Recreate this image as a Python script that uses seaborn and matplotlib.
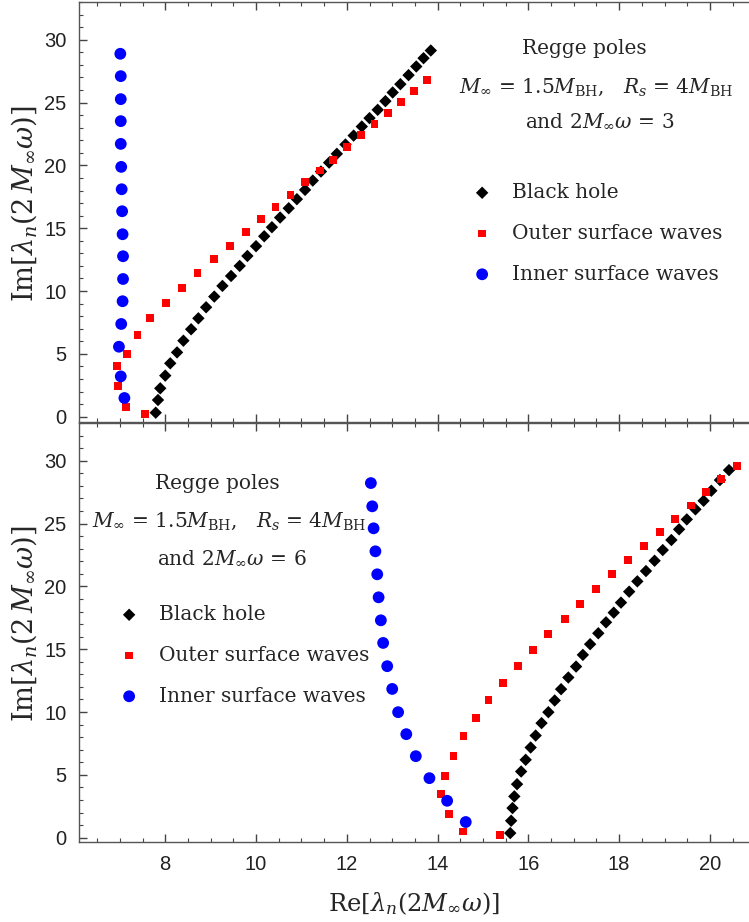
#!/usr/bin/env python3
# -*- coding: utf-8 -*-
import matplotlib
matplotlib.use("Agg")
import matplotlib.pyplot as plt
import pandas as pd
import seaborn as sns
from matplotlib import font_manager
from matplotlib.ticker import MultipleLocator

sns.set_theme(style="ticks", context='notebook')

W, H = 749, 922

# ---- panel 1 : 2 M_inf omega = 3 ----
bh1_re = [7.79, 7.84, 7.89, 8.00, 8.11, 8.26, 8.40, 8.57, 8.73, 8.90, 9.08, 9.26,
          9.45, 9.64, 9.81, 10.00, 10.18, 10.35, 10.53, 10.72, 10.90, 11.08, 11.25,
          11.43, 11.61, 11.78, 11.97, 12.15, 12.33, 12.50, 12.68, 12.85, 13.01,
          13.18, 13.36, 13.53, 13.69, 13.85]
bh1_im = [0.32, 1.33, 2.26, 3.27, 4.25, 5.12, 6.05, 6.96, 7.83, 8.71, 9.56, 10.41,
          11.20, 12.00, 12.79, 13.57, 14.36, 15.08, 15.85, 16.59, 17.31, 18.05, 18.79,
          19.51, 20.22, 20.92, 21.66, 22.37, 23.09, 23.76, 24.42, 25.11, 25.80,
          26.46, 27.18, 27.87, 28.53, 29.14]
out1_re = [7.55, 7.14, 6.95, 6.94, 7.16, 7.39, 7.66, 8.01, 8.37, 8.71, 9.07, 9.42,
           9.77, 10.10, 10.43, 10.76, 11.08, 11.40, 11.70, 12.00, 12.31, 12.61,
           12.91, 13.19, 13.48, 13.76]
out1_im = [0.19, 0.74, 2.42, 4.06, 4.97, 6.48, 7.83, 9.03, 10.22, 11.41, 12.53, 13.57,
           14.68, 15.71, 16.67, 17.62, 18.66, 19.59, 20.46, 21.45, 22.43, 23.28,
           24.15, 25.03, 25.91, 26.76]
inn1_re = [7.10, 7.02, 6.98, 7.03, 7.06, 7.07, 7.07, 7.06, 7.05, 7.04, 7.03, 7.02,
           7.02, 7.02, 7.02, 7.01]
inn1_im = [1.49, 3.21, 5.57, 7.38, 9.19, 10.96, 12.77, 14.52, 16.35, 18.10, 19.88,
           21.71, 23.52, 25.27, 27.10, 28.88]

# ---- panel 2 : 2 M_inf omega = 6 ----
bh2_re = [15.60, 15.62, 15.65, 15.69, 15.75, 15.84, 15.94, 16.05, 16.16, 16.29,
          16.44, 16.58, 16.72, 16.88, 17.05, 17.20, 17.36, 17.54, 17.71, 17.88,
          18.04, 18.22, 18.40, 18.59, 18.78, 18.96, 19.15, 19.32, 19.49, 19.68,
          19.86, 20.03, 20.22, 20.42]
bh2_im = [0.37, 1.35, 2.36, 3.29, 4.26, 5.27, 6.20, 7.18, 8.13, 9.12, 9.99, 10.92,
          11.82, 12.75, 13.62, 14.55, 15.40, 16.27, 17.14, 17.91, 18.71, 19.58,
          20.40, 21.22, 22.04, 22.89, 23.69, 24.54, 25.33, 26.13, 26.81, 27.61,
          28.46, 29.25]
out2_re = [15.38, 14.56, 14.26, 14.07, 14.17, 14.35, 14.57, 14.84, 15.12, 15.44,
           15.77, 16.11, 16.44, 16.80, 17.14, 17.49, 17.85, 18.20, 18.54, 18.89,
           19.23, 19.58, 19.92, 20.25, 20.59]
out2_im = [0.24, 0.50, 1.88, 3.47, 4.90, 6.49, 8.11, 9.51, 10.94, 12.30, 13.67,
           14.94, 16.19, 17.41, 18.60, 19.77, 20.99, 22.10, 23.19, 24.30, 25.33,
           26.44, 27.48, 28.55, 29.57]
inn2_re = [14.62, 14.21, 13.82, 13.52, 13.31, 13.13, 13.00, 12.89, 12.80, 12.75,
           12.70, 12.67, 12.63, 12.59, 12.56, 12.53]
inn2_im = [1.25, 2.94, 4.74, 6.49, 8.24, 9.99, 11.84, 13.65, 15.50, 17.30, 19.13,
           20.96, 22.79, 24.62, 26.37, 28.22]

LABELS = ['Black hole', 'Outer surface waves', 'Inner surface waves']
SERIF = 'DejaVu Serif'


def pick_font(names, default):
    have = {f.name for f in font_manager.fontManager.ttflist}
    for n in names:
        if n in have:
            return n
    return default


TICK_FONT = pick_font(['Liberation Sans Narrow'], 'Liberation Sans')
plt.rcParams['mathtext.fontset'] = 'dejavuserif'


def make_df(bh, out, inn):
    parts = []
    for lab, (re, im) in zip(LABELS, [bh, out, inn]):
        parts.append(pd.DataFrame({'re': re, 'im': im, 'kind': lab}))
    return pd.concat(parts, ignore_index=True)


def fpx(x, y):
    return x / W, 1 - y / H


def plot_panel(ax, df):
    styles = {
        'Black hole': dict(marker='D', color='black', s=40),
        'Outer surface waves': dict(marker='s', color='#ff0000', s=32),
        'Inner surface waves': dict(marker='o', color='#0000ff', s=72),
    }
    for lab in LABELS:
        st = styles[lab]
        sns.scatterplot(data=df[df['kind'] == lab], x='re', y='im', ax=ax,
                        marker=st['marker'], color=st['color'], s=st['s'],
                        edgecolor='none', linewidth=0, label=lab, zorder=3)
    ax.set_xlim(6.1, 20.86)
    ax.xaxis.set_major_locator(MultipleLocator(2))
    ax.xaxis.set_minor_locator(MultipleLocator(0.5))
    ax.yaxis.set_major_locator(MultipleLocator(5))
    ax.yaxis.set_minor_locator(MultipleLocator(1))
    ax.tick_params(which='both', direction='in', top=True, right=False,
                   color='#444444', labelsize=14.5, pad=9, labelcolor='#222222')
    ax.tick_params(which='major', length=6, width=1)
    ax.tick_params(which='minor', length=3, width=0.8)
    for lbl in ax.get_xticklabels() + ax.get_yticklabels():
        lbl.set_family(TICK_FONT)
    for sp in ['left', 'bottom', 'top']:
        ax.spines[sp].set_color('#555555')
        ax.spines[sp].set_linewidth(1.0)
    ax.spines['right'].set_visible(False)
    ax.set_ylabel(r'$\mathrm{Im}[\lambda_n(2\,M_\infty\omega)]$', fontsize=19.5,
                  family=SERIF)


fig = plt.figure(figsize=(W / 100, H / 100), dpi=100)
ax1 = fig.add_axes([79 / W, 1 - 422 / H, 1 - 79 / W, 420 / H])
ax2 = fig.add_axes([79 / W, 1 - 842 / H, 1 - 79 / W, 419 / H])

plot_panel(ax1, make_df((bh1_re, bh1_im), (out1_re, out1_im), (inn1_re, inn1_im)))
plot_panel(ax2, make_df((bh2_re, bh2_im), (out2_re, out2_im), (inn2_re, inn2_im)))
ax1.set_ylim(-0.42, 33.0)
ax2.set_ylim(-0.34, 33.0)
ax1.set_xlabel('')
ax1.tick_params(labelbottom=False)
ax2.set_xlabel(r'$\mathrm{Re}[\lambda_n(2M_\infty\omega)]$', fontsize=17.5,
               family=SERIF, labelpad=12)
ax1.yaxis.set_label_coords(-0.060, 0.52)
ax2.yaxis.set_label_coords(-0.060, 0.52)

txt = dict(family=SERIF, fontsize=14.5, ha='center', va='center')
mline = r'$M_\infty$ = 1.5$M_{\mathrm{BH}}$,   $R_s$ = 4$M_{\mathrm{BH}}$'
fig.text(*fpx(584, 48), 'Regge poles', **txt)
fig.text(*fpx(596, 87), mline, **txt)
fig.text(*fpx(600, 121), r'and 2$M_\infty\omega$ = 3', **txt)
fig.text(*fpx(217, 483), 'Regge poles', **txt)
fig.text(*fpx(229, 521), mline, **txt)
fig.text(*fpx(232, 558), r'and 2$M_\infty\omega$ = 6', **txt)

leg_kw = dict(frameon=False, prop={'family': SERIF, 'size': 14.5}, borderpad=0,
              handlelength=1.0, handletextpad=1.0, labelspacing=1.08,
              loc='upper left', bbox_transform=fig.transFigure, markerscale=1.0)
ax1.legend(bbox_to_anchor=fpx(462, 173), **leg_kw)
ax2.legend(bbox_to_anchor=fpx(109, 595), **leg_kw)

fig.savefig('out.png', dpi=100)
